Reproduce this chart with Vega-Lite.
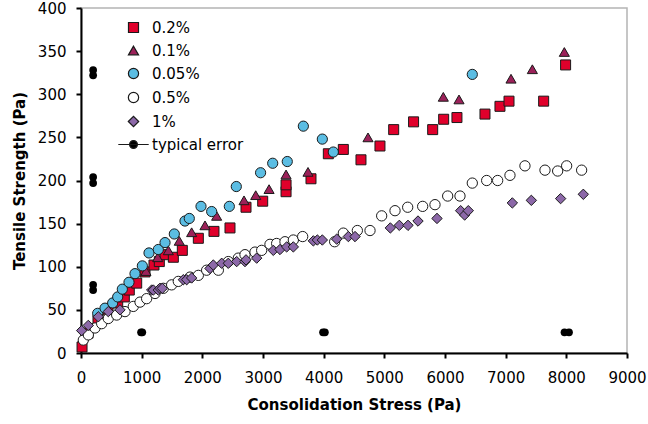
{
  "$schema": "https://vega.github.io/schema/vega-lite/v6.json",
  "width": 546,
  "height": 345,
  "autosize": "none",
  "padding": {"left": 81, "top": 8, "right": 21, "bottom": 71},
  "background": "white",
  "config": {
    "font": "DejaVu Sans",
    "view": {"stroke": "#b4b4b4", "strokeWidth": 1.5},
    "axis": {"grid": false, "domainColor": "black", "domainWidth": 2, "tickColor": "black", "tickWidth": 2, "tickSize": 5, "labelFont": "DejaVu Sans", "labelFontSize": 15, "labelColor": "black", "titleFont": "DejaVu Sans", "titleFontSize": 15, "titleFontWeight": "bold", "titleColor": "black", "labelOverlap": false, "labelFlush": false}
  },
  "datasets": {
    "pts": [
      {"s": "0.2%", "x": 17, "y": 7},
      {"s": "0.2%", "x": 115, "y": 23},
      {"s": "0.2%", "x": 280, "y": 38},
      {"s": "0.2%", "x": 445, "y": 50},
      {"s": "0.2%", "x": 605, "y": 58},
      {"s": "0.2%", "x": 714, "y": 65},
      {"s": "0.2%", "x": 796, "y": 73},
      {"s": "0.2%", "x": 918, "y": 81},
      {"s": "0.2%", "x": 1055, "y": 94},
      {"s": "0.2%", "x": 1203, "y": 102},
      {"s": "0.2%", "x": 1291, "y": 106},
      {"s": "0.2%", "x": 1385, "y": 114},
      {"s": "0.2%", "x": 1522, "y": 111},
      {"s": "0.2%", "x": 1670, "y": 119},
      {"s": "0.2%", "x": 1934, "y": 133},
      {"s": "0.2%", "x": 2192, "y": 141},
      {"s": "0.2%", "x": 2456, "y": 145},
      {"s": "0.2%", "x": 2720, "y": 169},
      {"s": "0.2%", "x": 2995, "y": 176},
      {"s": "0.2%", "x": 3380, "y": 187},
      {"s": "0.2%", "x": 3380, "y": 195},
      {"s": "0.2%", "x": 3791, "y": 202},
      {"s": "0.2%", "x": 4077, "y": 231},
      {"s": "0.2%", "x": 4324, "y": 236},
      {"s": "0.2%", "x": 4615, "y": 224},
      {"s": "0.2%", "x": 4928, "y": 240},
      {"s": "0.2%", "x": 5154, "y": 259},
      {"s": "0.2%", "x": 5482, "y": 268},
      {"s": "0.2%", "x": 5797, "y": 259},
      {"s": "0.2%", "x": 5978, "y": 271},
      {"s": "0.2%", "x": 6197, "y": 273},
      {"s": "0.2%", "x": 6659, "y": 277},
      {"s": "0.2%", "x": 6906, "y": 286},
      {"s": "0.2%", "x": 7055, "y": 292},
      {"s": "0.2%", "x": 7626, "y": 292},
      {"s": "0.2%", "x": 7988, "y": 334},
      {"s": "0.1%", "x": 1071, "y": 95},
      {"s": "0.1%", "x": 1264, "y": 111},
      {"s": "0.1%", "x": 1440, "y": 119},
      {"s": "0.1%", "x": 1620, "y": 130},
      {"s": "0.1%", "x": 1824, "y": 140},
      {"s": "0.1%", "x": 2044, "y": 148},
      {"s": "0.1%", "x": 2236, "y": 159},
      {"s": "0.1%", "x": 2687, "y": 177},
      {"s": "0.1%", "x": 2880, "y": 183},
      {"s": "0.1%", "x": 3100, "y": 190},
      {"s": "0.1%", "x": 3380, "y": 207},
      {"s": "0.1%", "x": 3742, "y": 210},
      {"s": "0.1%", "x": 4731, "y": 250},
      {"s": "0.1%", "x": 5972, "y": 297},
      {"s": "0.1%", "x": 6231, "y": 294},
      {"s": "0.1%", "x": 7088, "y": 318},
      {"s": "0.1%", "x": 7440, "y": 329},
      {"s": "0.1%", "x": 7967, "y": 349},
      {"s": "0.05%", "x": 275, "y": 46},
      {"s": "0.05%", "x": 396, "y": 52},
      {"s": "0.05%", "x": 522, "y": 58},
      {"s": "0.05%", "x": 605, "y": 65},
      {"s": "0.05%", "x": 681, "y": 74},
      {"s": "0.05%", "x": 791, "y": 82},
      {"s": "0.05%", "x": 890, "y": 92},
      {"s": "0.05%", "x": 1011, "y": 101},
      {"s": "0.05%", "x": 1121, "y": 116},
      {"s": "0.05%", "x": 1274, "y": 120},
      {"s": "0.05%", "x": 1385, "y": 128},
      {"s": "0.05%", "x": 1538, "y": 138},
      {"s": "0.05%", "x": 1714, "y": 153},
      {"s": "0.05%", "x": 1785, "y": 156},
      {"s": "0.05%", "x": 1978, "y": 170},
      {"s": "0.05%", "x": 2154, "y": 164},
      {"s": "0.05%", "x": 2445, "y": 170},
      {"s": "0.05%", "x": 2560, "y": 193},
      {"s": "0.05%", "x": 2960, "y": 209},
      {"s": "0.05%", "x": 3160, "y": 220},
      {"s": "0.05%", "x": 3400, "y": 222},
      {"s": "0.05%", "x": 3665, "y": 263},
      {"s": "0.05%", "x": 3978, "y": 248},
      {"s": "0.05%", "x": 4159, "y": 233},
      {"s": "0.05%", "x": 6450, "y": 323},
      {"s": "0.5%", "x": 38, "y": 15},
      {"s": "0.5%", "x": 121, "y": 21},
      {"s": "0.5%", "x": 231, "y": 29},
      {"s": "0.5%", "x": 341, "y": 34},
      {"s": "0.5%", "x": 450, "y": 40},
      {"s": "0.5%", "x": 588, "y": 44},
      {"s": "0.5%", "x": 725, "y": 48},
      {"s": "0.5%", "x": 862, "y": 54},
      {"s": "0.5%", "x": 973, "y": 59},
      {"s": "0.5%", "x": 1082, "y": 63},
      {"s": "0.5%", "x": 1220, "y": 69},
      {"s": "0.5%", "x": 1357, "y": 75},
      {"s": "0.5%", "x": 1494, "y": 79},
      {"s": "0.5%", "x": 1604, "y": 83},
      {"s": "0.5%", "x": 1797, "y": 88},
      {"s": "0.5%", "x": 1934, "y": 90},
      {"s": "0.5%", "x": 2071, "y": 96},
      {"s": "0.5%", "x": 2264, "y": 96},
      {"s": "0.5%", "x": 2428, "y": 106},
      {"s": "0.5%", "x": 2593, "y": 110},
      {"s": "0.5%", "x": 2703, "y": 114},
      {"s": "0.5%", "x": 2868, "y": 117},
      {"s": "0.5%", "x": 2978, "y": 119},
      {"s": "0.5%", "x": 3115, "y": 126},
      {"s": "0.5%", "x": 3225, "y": 127},
      {"s": "0.5%", "x": 3362, "y": 129},
      {"s": "0.5%", "x": 3500, "y": 131},
      {"s": "0.5%", "x": 3654, "y": 135},
      {"s": "0.5%", "x": 4181, "y": 129},
      {"s": "0.5%", "x": 4324, "y": 139},
      {"s": "0.5%", "x": 4555, "y": 142},
      {"s": "0.5%", "x": 4764, "y": 142},
      {"s": "0.5%", "x": 4956, "y": 159},
      {"s": "0.5%", "x": 5176, "y": 165},
      {"s": "0.5%", "x": 5385, "y": 169},
      {"s": "0.5%", "x": 5632, "y": 170},
      {"s": "0.5%", "x": 5835, "y": 172},
      {"s": "0.5%", "x": 6044, "y": 182},
      {"s": "0.5%", "x": 6247, "y": 182},
      {"s": "0.5%", "x": 6450, "y": 197},
      {"s": "0.5%", "x": 6687, "y": 200},
      {"s": "0.5%", "x": 6868, "y": 200},
      {"s": "0.5%", "x": 7071, "y": 206},
      {"s": "0.5%", "x": 7318, "y": 217},
      {"s": "0.5%", "x": 7648, "y": 212},
      {"s": "0.5%", "x": 7857, "y": 211},
      {"s": "0.5%", "x": 8005, "y": 217},
      {"s": "0.5%", "x": 8252, "y": 212},
      {"s": "1%", "x": 11, "y": 26},
      {"s": "1%", "x": 120, "y": 32},
      {"s": "1%", "x": 285, "y": 42},
      {"s": "1%", "x": 450, "y": 48},
      {"s": "1%", "x": 643, "y": 50},
      {"s": "1%", "x": 1165, "y": 73},
      {"s": "1%", "x": 1192, "y": 73},
      {"s": "1%", "x": 1274, "y": 73},
      {"s": "1%", "x": 1302, "y": 75},
      {"s": "1%", "x": 1340, "y": 75},
      {"s": "1%", "x": 1687, "y": 85},
      {"s": "1%", "x": 1742, "y": 85},
      {"s": "1%", "x": 1824, "y": 87},
      {"s": "1%", "x": 2126, "y": 98},
      {"s": "1%", "x": 2181, "y": 102},
      {"s": "1%", "x": 2319, "y": 104},
      {"s": "1%", "x": 2428, "y": 104},
      {"s": "1%", "x": 2566, "y": 106},
      {"s": "1%", "x": 2703, "y": 106},
      {"s": "1%", "x": 2720, "y": 108},
      {"s": "1%", "x": 2896, "y": 110},
      {"s": "1%", "x": 3170, "y": 119},
      {"s": "1%", "x": 3280, "y": 120},
      {"s": "1%", "x": 3390, "y": 123},
      {"s": "1%", "x": 3500, "y": 123},
      {"s": "1%", "x": 3830, "y": 130},
      {"s": "1%", "x": 3896, "y": 131},
      {"s": "1%", "x": 3978, "y": 131},
      {"s": "1%", "x": 4215, "y": 132},
      {"s": "1%", "x": 4407, "y": 135},
      {"s": "1%", "x": 4517, "y": 135},
      {"s": "1%", "x": 5099, "y": 145},
      {"s": "1%", "x": 5247, "y": 148},
      {"s": "1%", "x": 5390, "y": 148},
      {"s": "1%", "x": 5555, "y": 153},
      {"s": "1%", "x": 5868, "y": 156},
      {"s": "1%", "x": 6258, "y": 165},
      {"s": "1%", "x": 6324, "y": 160},
      {"s": "1%", "x": 6384, "y": 165},
      {"s": "1%", "x": 7110, "y": 174},
      {"s": "1%", "x": 7423, "y": 177},
      {"s": "1%", "x": 7906, "y": 179},
      {"s": "1%", "x": 8280, "y": 184}
    ],
    "err": [
      {"seg": "a", "x": 200, "y": 328},
      {"seg": "a", "x": 200, "y": 322},
      {"seg": "b", "x": 200, "y": 204},
      {"seg": "b", "x": 200, "y": 197},
      {"seg": "c", "x": 200, "y": 79},
      {"seg": "c", "x": 200, "y": 73},
      {"seg": "d", "x": 990, "y": 24},
      {"seg": "d", "x": 1010, "y": 24},
      {"seg": "e", "x": 3990, "y": 24},
      {"seg": "e", "x": 4020, "y": 24},
      {"seg": "f", "x": 7970, "y": 24},
      {"seg": "f", "x": 8044, "y": 24}
    ]
  },
  "layer": [
    {
      "data": {"name": "pts"},
      "mark": {"type": "point", "filled": true, "stroke": "#1a1a1a", "strokeWidth": 1, "opacity": 1},
      "encoding": {
        "x": {"field": "x", "type": "quantitative", "scale": {"domain": [0, 9000], "nice": false}, "axis": {"values": [0,1000,2000,3000,4000,5000,6000,7000,8000,9000], "format": "d", "title": "Consolidation Stress (Pa)", "labelPadding": 12, "titlePadding": 12}},
        "y": {"field": "y", "type": "quantitative", "scale": {"domain": [0, 400], "nice": false}, "axis": {"values": [0,50,100,150,200,250,300,350,400], "format": "d", "title": "Tensile Strength (Pa)", "labelPadding": 10, "titlePadding": 10}},
        "fill": {"field": "s", "type": "nominal", "scale": {"domain": ["0.2%", "0.1%", "0.05%", "0.5%", "1%", "typical error"], "range": ["#e0002b", "#9b2159", "#5bbde3", "#ffffff", "#8c68a8", "#000000"]},
          "legend": {"title": null, "orient": "none", "legendX": 45, "legendY": 12, "labelFontSize": 15, "labelFont": "DejaVu Sans", "labelColor": "black", "rowPadding": 7, "labelOffset": 11, "symbolStrokeColor": "#1a1a1a", "symbolStrokeWidth": 1.2}},
        "shape": {"field": "s", "type": "nominal", "scale": {"domain": ["0.2%", "0.1%", "0.05%", "0.5%", "1%", "typical error"], "range": ["square", "triangle-up", "circle", "circle", "diamond", "M-2.9,0L2.9,0M0.75,0C0.75,0.414,0.414,0.75,0,0.75C-0.414,0.75,-0.75,0.414,-0.75,0C-0.75,-0.414,-0.414,-0.75,0,-0.75C0.414,-0.75,0.75,-0.414,0.75,0Z"]}},
        "size": {"field": "s", "type": "nominal", "scale": {"domain": ["0.2%", "0.1%", "0.05%", "0.5%", "1%", "typical error"], "range": [100, 110, 100, 100, 42, 100]}}
      }
    },
    {
      "data": {"name": "err"},
      "mark": {"type": "line", "color": "black", "strokeWidth": 1.5, "point": {"filled": true, "color": "black", "size": 60}},
      "encoding": {
        "x": {"field": "x", "type": "quantitative"},
        "y": {"field": "y", "type": "quantitative"},
        "detail": {"field": "seg", "type": "nominal"}
      }
    }
  ]
}
